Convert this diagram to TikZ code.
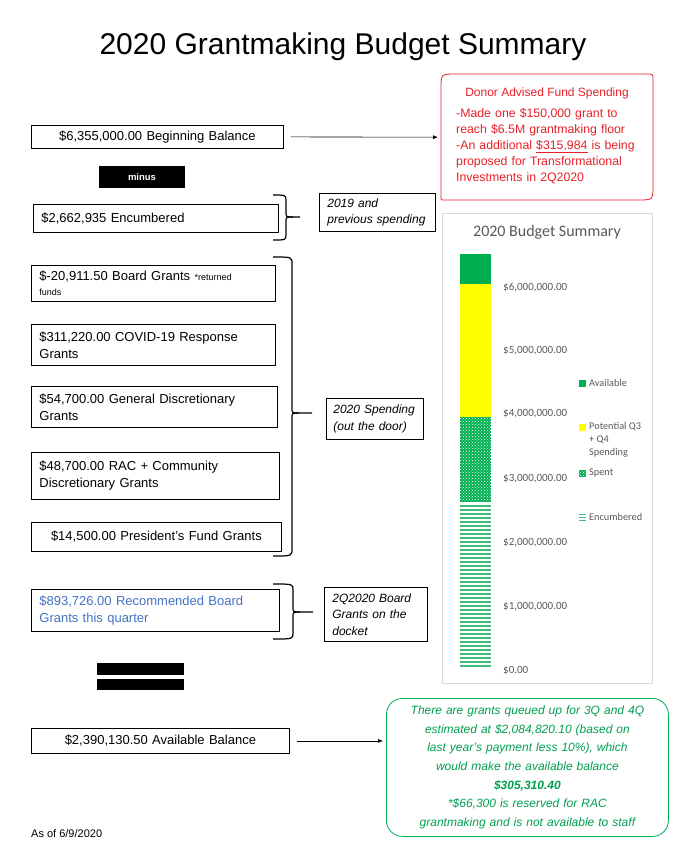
\documentclass[tikz,border=0pt]{standalone}
\usepackage{fontspec}
\setmainfont{Liberation Sans}
\newfontfamily\chartfont{Carlito}
\usetikzlibrary{patterns,arrows.meta}
\definecolor{redc}{RGB}{232,32,40}
\definecolor{bluec}{RGB}{68,114,196}
\definecolor{greenc}{RGB}{0,160,80}
\definecolor{chartgreen}{RGB}{0,176,80}
\definecolor{enccolor}{RGB}{60,190,120}
\definecolor{yellowc}{RGB}{255,255,0}
\definecolor{gridgray}{RGB}{217,217,217}
\definecolor{labgray}{RGB}{89,89,89}
\tikzset{
  box/.style={draw, line width=0.8pt, anchor=north west, inner xsep=8pt, inner ysep=0pt,
    font=\fontsize{13}{17}\selectfont, align=left},
  note/.style={draw, line width=0.8pt, anchor=north west, inner xsep=8pt, inner ysep=0pt,
    font=\itshape\fontsize{12}{16.5}\selectfont, align=left},
  arr/.style={-{Latex[length=5pt,width=4pt]}, line width=0.6pt},
  brc/.style={line width=1.2pt},
  axlab/.style={anchor=west, text=labgray, inner sep=0pt, font=\chartfont\fontsize{11}{12}\selectfont},
  leglab/.style={anchor=west, text=labgray, inner sep=0pt, font=\chartfont\fontsize{10.3}{12}\selectfont},
  encline/.style={fill=enccolor}
}
\begin{document}
\begin{tikzpicture}[x=1pt,y=-1pt]
\useasboundingbox (0,0) rectangle (680,864);
\fill[white] (0,0) rectangle (680,864);

% title
\node (title) at (343,47) {\fontsize{30}{32}\selectfont 2020 Grantmaking Budget Summary};

% left column boxes
\node[box, text width=236pt, minimum height=23pt, align=center] (begin) at (31,125) {\$6,355,000.00 Beginning Balance};
\node[fill=black, minimum width=86pt, minimum height=22pt, inner sep=0pt, text=white,
      font=\bfseries\fontsize{9.5}{10}\selectfont] (minus) at (142,177) {minus};
\node[box, text width=229pt, minimum height=28pt] (encumb) at (33,204) {\$2,662,935 Encumbered};
\node[box, text width=228pt, minimum height=36pt, font=\fontsize{13}{15}\selectfont] (board) at (31,265)
  {\$-20,911.50 Board Grants {\fontsize{9}{10}\selectfont *returned}\\{\fontsize{9}{10}\selectfont funds}};
\node[box, text width=228pt, minimum height=41pt] (covid) at (31,324) {\$311,220.00 COVID-19 Response\\Grants};
\node[box, text width=230pt, minimum height=41pt] (general) at (31,386) {\$54,700.00 General Discretionary\\Grants};
\node[box, text width=232pt, minimum height=47pt] (rac) at (31,452) {\$48,700.00 RAC + Community\\Discretionary Grants};
\node[box, text width=234pt, minimum height=29pt, align=center] (pres) at (31,522) {\$14,500.00 President’s Fund Grants};
\node[box, text width=232pt, minimum height=42pt, text=bluec, draw=black] (recom) at (31,589) {\$893,726.00 Recommended Board\\Grants this quarter};

% equals sign
\fill[black] (97,663) rectangle (184,675);
\fill[black] (97,679) rectangle (184,690);

\node[box, text width=242pt, minimum height=25pt, align=center] (avail) at (31,728) {\$2,390,130.50 Available Balance};
\node[anchor=west, inner sep=0pt, font=\fontsize{11}{12}\selectfont] (asof) at (31,834) {As of 6/9/2020};

% note boxes
\node[note, text width=100pt, minimum height=38pt] (prev) at (319,193) {2019 and\\previous spending};
\node[note, inner xsep=7pt, text width=83pt, minimum height=41pt] (spend) at (326,398) {2020 Spending\\(out the door)};
\node[note, text width=87pt, minimum height=54pt] (docket) at (324,587) {2Q2020 Board\\Grants on the\\docket};

% braces
\draw[brc] (273,195) .. controls (286,195) .. (286,201) -- (286,212) .. controls (286,217) .. (293,217) -- (300,217);
\draw[brc] (293,217) .. controls (286,217) .. (286,222) -- (286,234) .. controls (286,240) .. (273,240);
\draw[brc] (273,257) .. controls (292,257) .. (292,264) -- (292,408) .. controls (292,413) .. (299,413) -- (312,413);
\draw[brc] (299,413) .. controls (292,413) .. (292,418) -- (292,549) .. controls (292,556) .. (273,556);
\draw[brc] (273,584) .. controls (293,584) .. (293,590) -- (293,607) .. controls (293,612) .. (300,612) -- (313,612);
\draw[brc] (300,612) .. controls (293,612) .. (293,617) -- (293,633) .. controls (293,639) .. (273,639);

% donor advised fund box
\node[inner sep=0pt, minimum width=212pt, minimum height=126pt, anchor=north west] (daf) at (441,74) {};
\draw[redc, line width=0.8pt] (441,89) .. controls (441,74) .. (456,74) -- (647,74) .. controls (653,74) .. (653,80)
  -- (653,185) .. controls (653,200) .. (638,200) -- (443,200) .. controls (441,200) .. (441,198) -- cycle;
\node[text=redc, inner sep=0pt, font=\fontsize{12}{14}\selectfont] (daftitle) at (547,93) {Donor Advised Fund Spending};
\node[anchor=north west, inner sep=0pt, text width=195pt, align=left, text=redc,
      font=\fontsize{12.3}{16}\selectfont] (dafbody) at (456,108)
  {-Made one \$150,000 grant to\\reach \$6.5M grantmaking floor\\-An additional \underline{\$315,984} is being\\proposed for Transformational\\Investments in 2Q2020};

% arrows
\draw[arr, shorten <=7pt, shorten >=3pt] (begin.east) -- (daf.west);
\node[draw=chartgreen, line width=0.8pt, rounded corners=16pt, anchor=north west, minimum width=282pt,
      minimum height=138pt, text width=270pt, align=center, text=greenc, inner sep=0pt,
      font=\itshape\fontsize{12}{18.7}\selectfont] (queue) at (386,698)
  {There are grants queued up for 3Q and 4Q\\estimated at \$2,084,820.10 (based on\\last year’s payment less 10\%), which\\would make the available balance\\\textbf{\$305,310.40}\\{*}\$66,300 is reserved for RAC\\grantmaking and is not available to staff};
\draw[arr, shorten <=7pt, shorten >=3pt] (avail.east) -- (avail.east -| queue.west);

% chart
\draw[gridgray, line width=0.8pt] (442,213) rectangle (652,683);
\node[text=labgray, inner sep=0pt, font=\chartfont\fontsize{16}{18}\selectfont] (ctitle) at (547,232) {2020 Budget Summary};
\fill[chartgreen] (460,254) rectangle (491,284);
\fill[yellowc] (460,284) rectangle (491,417);
\fill[chartgreen] (460,417) rectangle (491,502);
\fill[pattern=crosshatch dots, pattern color=white] (460,417) rectangle (491,502);
\foreach \yy in {505,509,...,665} \fill[encline] (460,\yy) rectangle (491,\yy+1.5);
\foreach \yy in {514,517,520} \fill[encline] (579,\yy) rectangle (586,\yy+1);

\node[axlab] (t6) at (503,287) {\$6,000,000.00};
\node[axlab] (t5) at (503,351) {\$5,000,000.00};
\node[axlab] (t4) at (503,414) {\$4,000,000.00};
\node[axlab] (t3) at (503,479) {\$3,000,000.00};
\node[axlab] (t2) at (503,543) {\$2,000,000.00};
\node[axlab] (t1) at (503,607) {\$1,000,000.00};
\node[axlab] (t0) at (503,671) {\$0.00};

% legend
\fill[chartgreen] (579,380) rectangle (586,387);
\node[leglab] (lavail) at (589,383) {Available};
\fill[yellowc] (579,424) rectangle (586,431);
\node[leglab] (lpot1) at (589,427) {Potential Q3};
\node[leglab] (lpot2) at (589,440) {+ Q4};
\node[leglab] (lpot3) at (589,453) {Spending};
\fill[chartgreen] (579,470) rectangle (586,477);
\fill[pattern=crosshatch dots, pattern color=white] (579,470) rectangle (586,477);
\node[leglab] (lspent) at (589,473) {Spent};
\node[leglab] (lenc) at (589,517) {Encumbered};
\end{tikzpicture}
\end{document}
